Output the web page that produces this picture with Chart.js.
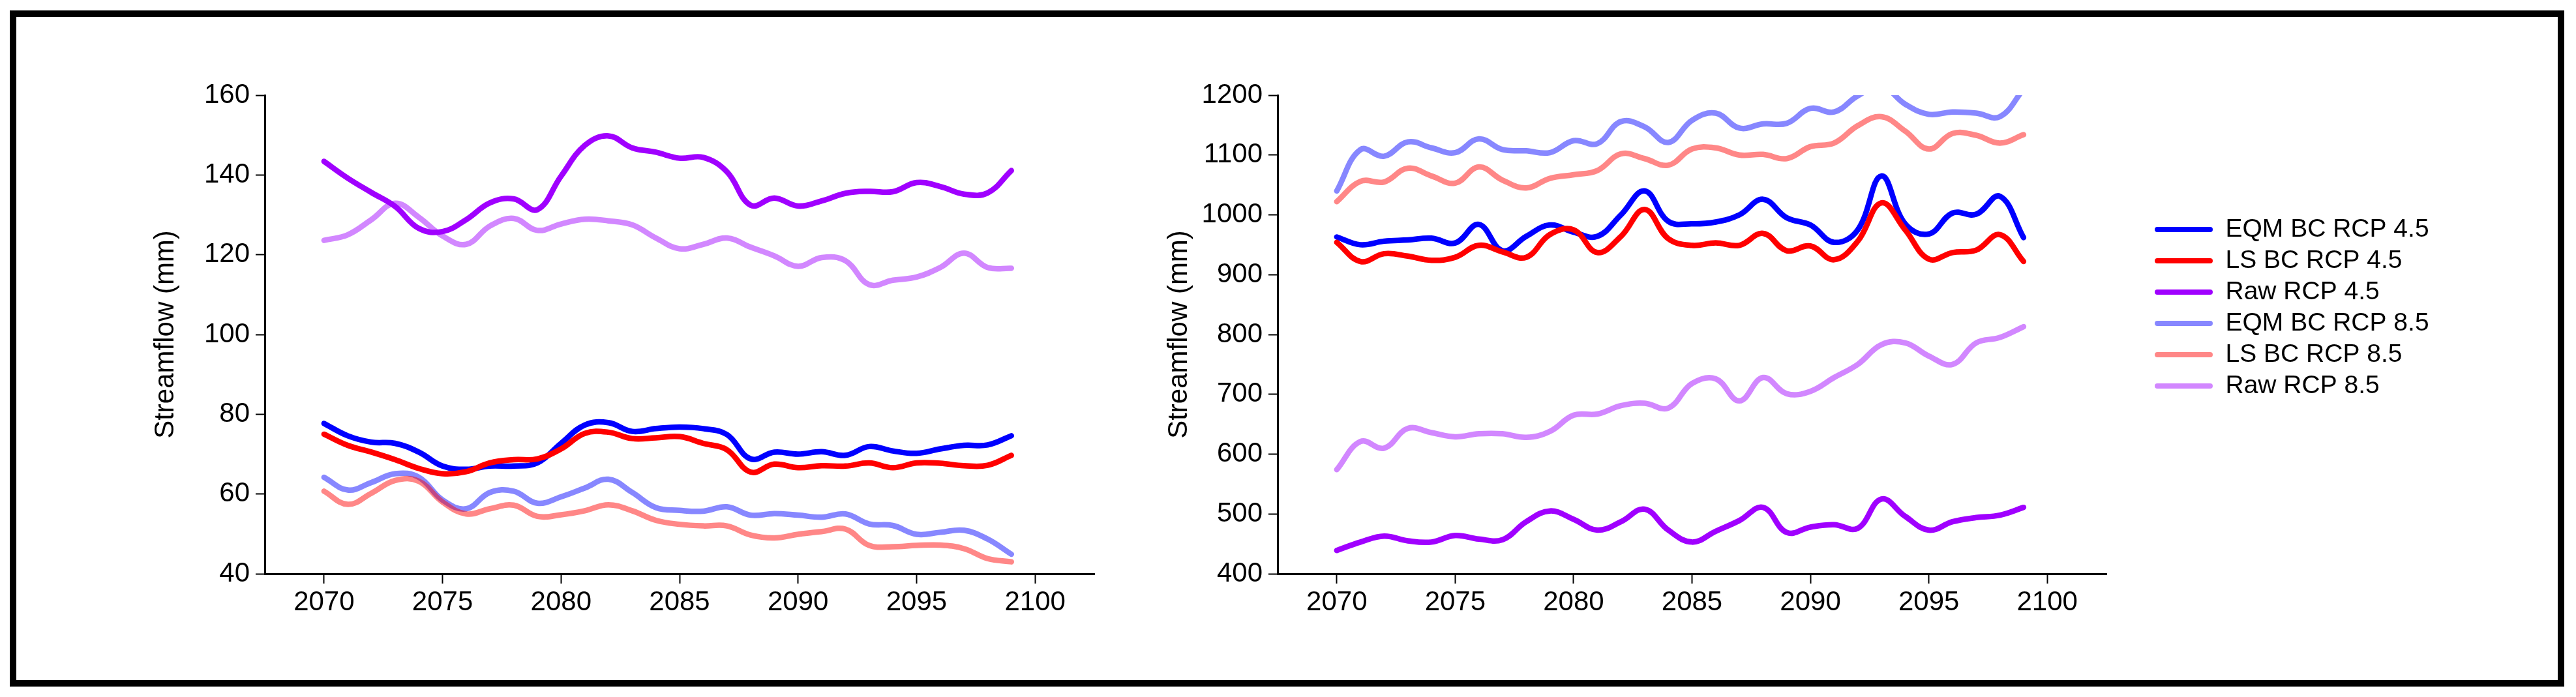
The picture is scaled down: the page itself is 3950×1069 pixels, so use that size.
<!DOCTYPE html>
<html>
<head>
<meta charset="utf-8">
<script src="https://cdn.jsdelivr.net/npm/chart.js@4.4.0/dist/chart.umd.min.js"></script>
<style>
html,body{margin:0;padding:0;background:#fff;width:3950px;height:1069px;overflow:hidden}
#frame{position:absolute;left:15px;top:16px;width:3917px;height:1037px;box-sizing:border-box;border:10px solid #000}
canvas{position:absolute}
</style>
</head>
<body>
<div id="frame"></div>
<canvas id="left" width="1700" height="990" style="left:30px;top:30px;width:1700px;height:990px"></canvas>
<canvas id="right" width="2100" height="990" style="left:1760px;top:30px;width:2100px;height:990px"></canvas>
<script>
// ---------- data ----------
const years = [2070,2071,2072,2073,2074,2075,2076,2077,2078,2079,2080,2081,2082,2083,2084,2085,2086,2087,2088,2089,2090,2091,2092,2093,2094,2095,2096,2097,2098,2099];
const seriesNames = ['EQM BC RCP 4.5','LS BC RCP 4.5','Raw RCP 4.5','EQM BC RCP 8.5','LS BC RCP 8.5','Raw RCP 8.5'];

// left panel (mm)
const eqm45Left = [77.7,74.6,73.0,72.7,70.5,67.0,66.2,67.0,67.0,67.8,72.7,77.3,77.9,75.7,76.4,76.8,76.4,74.9,68.8,70.5,70.0,70.6,69.7,71.9,70.8,70.2,71.3,72.2,72.3,74.6];
const ls45Left  = [75.0,72.2,70.5,68.6,66.4,65.1,65.6,67.8,68.6,68.8,71.3,75.2,75.5,73.9,74.1,74.4,72.7,71.1,65.5,67.5,66.6,67.1,67.0,67.8,66.6,67.8,67.7,67.1,67.2,69.7];
const raw45Left = [143.4,139.2,135.6,132.1,126.6,125.8,128.8,133.0,134.0,131.3,139.7,147.4,149.8,146.8,145.7,144.2,144.4,140.8,132.4,134.2,132.2,133.5,135.4,135.9,135.8,138.1,137.1,135.2,135.5,141.1];
const eqm85Left = [64.2,61.0,62.9,65.1,64.2,58.5,56.3,60.4,60.7,57.7,59.3,61.5,63.7,60.4,56.6,55.9,55.7,56.8,54.7,55.1,54.7,54.2,55.0,52.5,52.1,49.9,50.4,50.9,48.7,44.9];
const ls85Left  = [60.7,57.4,60.2,63.4,63.2,58.0,55.0,56.3,57.2,54.4,54.8,55.8,57.3,55.8,53.4,52.4,52.0,52.0,49.7,49.0,49.9,50.6,51.2,47.1,46.8,47.1,47.2,46.3,43.8,43.0];
const raw85Left = [123.6,125.0,128.8,132.9,129.4,124.7,122.6,127.2,129.1,126.1,127.7,128.9,128.5,127.5,124.2,121.5,122.6,124.2,121.9,119.7,117.1,119.3,118.5,112.5,113.6,114.4,116.8,120.4,116.8,116.6];

// right panel (mm)
const eqm45Right = [963,950,956,958,961,953,984,940,964,983,971,964,1000,1040,989,985,988,1000,1026,995,983,954,975,1065,985,968,1003,1001,1031,962];
const ls45Right  = [954,922,935,931,924,929,949,938,929,967,975,937,964,1009,960,949,953,949,969,940,948,925,956,1020,975,926,937,941,967,922];
const raw45Right = [439,453,463,455,453,464,458,457,487,505,491,473,487,508,473,453,471,489,511,469,478,482,476,525,496,473,487,494,498,511];
const eqm85Right = [1040,1109,1098,1122,1112,1104,1127,1109,1107,1104,1124,1119,1156,1147,1121,1158,1170,1145,1152,1153,1178,1172,1199,1215,1185,1168,1172,1170,1164,1210];
const ls85Right  = [1022,1056,1055,1078,1065,1053,1080,1058,1045,1061,1067,1074,1102,1094,1083,1110,1112,1100,1101,1094,1114,1120,1149,1164,1140,1110,1136,1133,1120,1134];
const raw85Right = [574,621,610,643,636,629,634,634,628,638,665,667,681,685,677,718,726,689,728,701,705,728,750,783,786,764,750,786,795,813];

// ticks
const xTicks = [2070,2075,2080,2085,2090,2095,2100];
const yTicksLeft = [40,60,80,100,120,140,160];
const yTicksRight = [400,500,600,700,800,900,1000,1100,1200];

// ---------- style ----------
const colors = ['#0000FF','#FF0000','#A000FF','rgba(0,0,255,0.47)','rgba(255,0,0,0.47)','rgba(160,0,255,0.47)'];
const FONT = "'Liberation Sans', Arial, Helvetica, sans-serif";
Chart.defaults.font.family = FONT;
Chart.defaults.color = '#000';

function makeDatasets(arrs) {
  return arrs.map((vals, i) => ({
    label: seriesNames[i],
    data: years.map((y, k) => ({x: y, y: vals[k]})),
    borderColor: colors[i],
    backgroundColor: colors[i],
    borderWidth: 8.5,
    borderCapStyle: 'round',
    borderJoinStyle: 'round',
    pointRadius: 0,
    pointHoverRadius: 0,
    tension: 0.4,
    fill: false,
    order: 6 - i
  }));
}

function axes(yMin, yMax, yTicks, yWidth, titlePad) {
  return {
    x: {
      type: 'linear', min: 2067.5, max: 2102.5,
      afterBuildTicks: s => { s.ticks = xTicks.map(v => ({value: v})); },
      afterFit: s => { s.height = 140; },
      grid: {display: true, drawOnChartArea: false, drawTicks: true, tickLength: 15, tickWidth: 2, tickColor: '#000'},
      border: {display: true, width: 3, color: '#000'},
      ticks: {font: {size: 42}, color: '#000', padding: 4, maxRotation: 0, autoSkip: false, callback: v => String(v)}
    },
    y: {
      type: 'linear', min: yMin, max: yMax,
      afterBuildTicks: s => { s.ticks = yTicks.map(v => ({value: v})); },
      afterFit: s => { s.width = yWidth; },
      grid: {display: true, drawOnChartArea: false, drawTicks: true, tickLength: 14, tickWidth: 2, tickColor: '#000'},
      border: {display: true, width: 3, color: '#000'},
      ticks: {font: {size: 42}, color: '#000', padding: 9, autoSkip: false, callback: v => String(v)},
      title: {display: true, text: 'Streamflow (mm)', font: {size: 42}, color: '#000', padding: {top: titlePad, bottom: 0}}
    }
  };
}

// place the legend of the right panel beside its plot area
const legendPlacer = {
  id: 'legendPlacer',
  beforeDraw(chart) {
    const lg = chart.legend;
    if (!lg || chart.canvas.id !== 'right') return;
    const h = lg.height;
    lg.left = 1535; lg.width = 540; lg.right = lg.left + lg.width;
    lg.top = 293.5; lg.bottom = lg.top + h;
  }
};

new Chart(document.getElementById('left'), {
  type: 'line',
  data: {datasets: makeDatasets([eqm45Left, ls45Left, raw45Left, eqm85Left, ls85Left, raw85Left])},
  options: {
    responsive: false, animation: false, devicePixelRatio: 1,
    layout: {padding: {top: 116, right: 52, left: 0, bottom: 0}},
    plugins: {legend: {display: false}, tooltip: {enabled: false}},
    scales: axes(40, 160, yTicksLeft, 376, 199)
  }
});

new Chart(document.getElementById('right'), {
  type: 'line',
  data: {datasets: makeDatasets([eqm45Right, ls45Right, raw45Right, eqm85Right, ls85Right, raw85Right])},
  options: {
    responsive: false, animation: false, devicePixelRatio: 1,
    layout: {padding: {top: 116, right: 530, left: 0, bottom: 0}},
    plugins: {
      tooltip: {enabled: false},
      legend: {
        display: true, position: 'right', align: 'start', maxWidth: 100,
        labels: {
          font: {size: 39}, color: '#000', padding: 9,
          boxWidth: 89, boxHeight: 8, useBorderRadius: true, borderRadius: 4,
          sort: (a, b) => a.datasetIndex - b.datasetIndex,
          generateLabels: chart => Chart.defaults.plugins.legend.labels.generateLabels(chart)
            .map(l => Object.assign(l, {fillStyle: l.strokeStyle, lineWidth: 0}))
        }
      }
    },
    scales: axes(400, 1200, yTicksRight, 199, 23)
  },
  plugins: [legendPlacer]
});
</script>
</body>
</html>
